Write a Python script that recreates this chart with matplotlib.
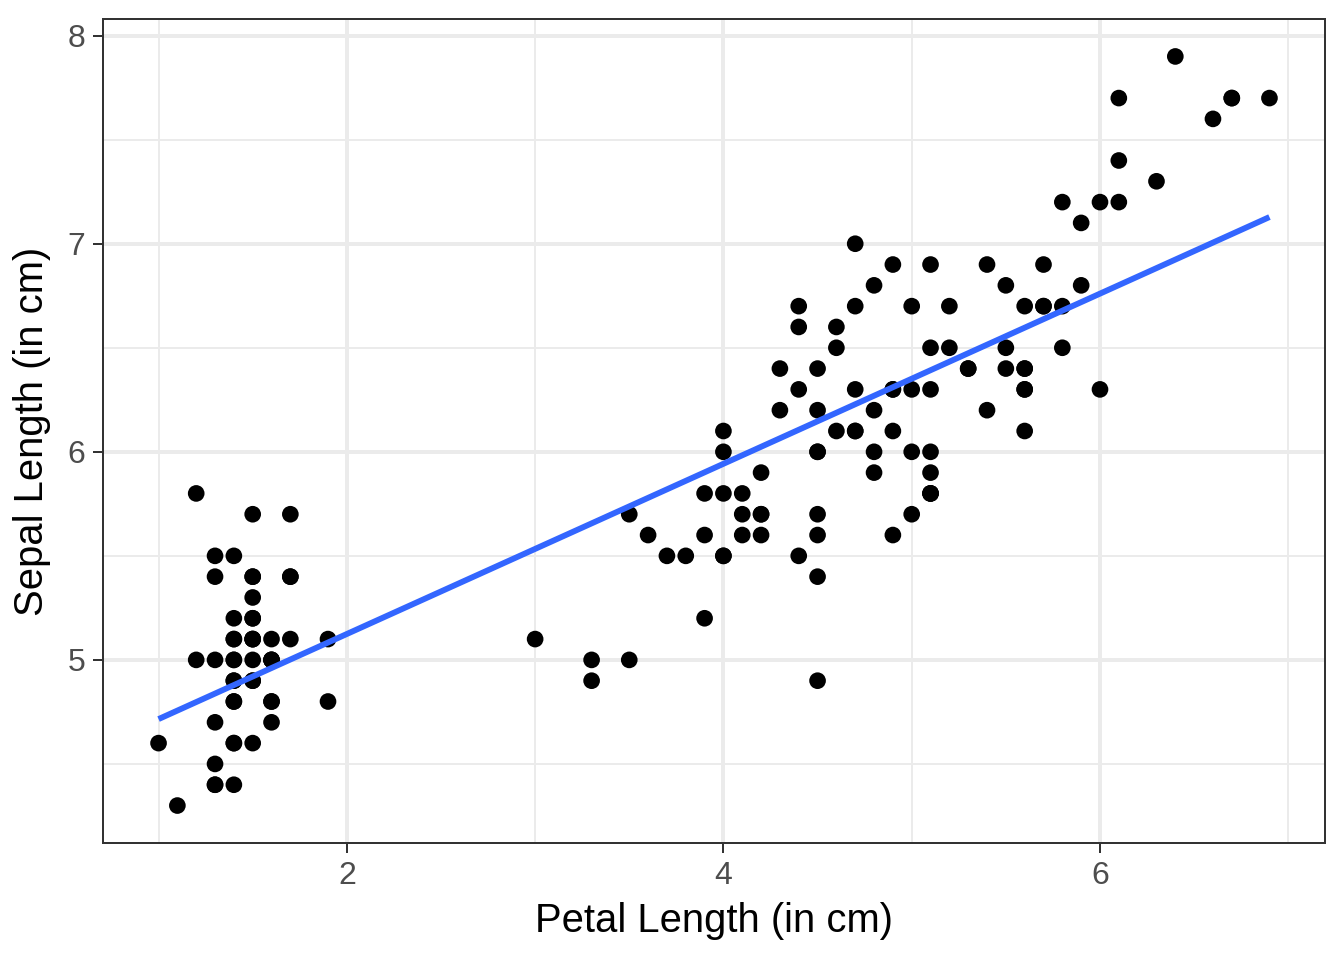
import matplotlib
matplotlib.use("Agg")
import matplotlib.pyplot as plt
import numpy as np

plt.rcParams["font.family"] = ["Liberation Sans", "DejaVu Sans"]

# iris: petal length and sepal length (cm)
petal_length = [
    1.4, 1.4, 1.3, 1.5, 1.4, 1.7, 1.4, 1.5, 1.4, 1.5, 1.5, 1.6, 1.4, 1.1, 1.2, 1.5, 1.3, 1.4, 1.7, 1.5,
    1.7, 1.5, 1.0, 1.7, 1.9, 1.6, 1.6, 1.5, 1.4, 1.6, 1.6, 1.5, 1.5, 1.4, 1.5, 1.2, 1.3, 1.4, 1.3, 1.5,
    1.3, 1.3, 1.3, 1.6, 1.9, 1.4, 1.6, 1.4, 1.5, 1.4,
    4.7, 4.5, 4.9, 4.0, 4.6, 4.5, 4.7, 3.3, 4.6, 3.9, 3.5, 4.2, 4.0, 4.7, 3.6, 4.4, 4.5, 4.1, 4.5, 3.9,
    4.8, 4.0, 4.9, 4.7, 4.3, 4.4, 4.8, 5.0, 4.5, 3.5, 3.8, 3.7, 3.9, 5.1, 4.5, 4.5, 4.7, 4.4, 4.1, 4.0,
    4.4, 4.6, 4.0, 3.3, 4.2, 4.2, 4.2, 4.3, 3.0, 4.1,
    6.0, 5.1, 5.9, 5.6, 5.8, 6.6, 4.5, 6.3, 5.8, 6.1, 5.1, 5.3, 5.5, 5.0, 5.1, 5.3, 5.5, 6.7, 6.9, 5.0,
    5.7, 4.9, 6.7, 4.9, 5.7, 6.0, 4.8, 4.9, 5.6, 5.8, 6.1, 6.4, 5.6, 5.1, 5.6, 6.1, 5.6, 5.5, 4.8, 5.4,
    5.6, 5.1, 5.1, 5.9, 5.7, 5.2, 5.0, 5.2, 5.4, 5.1,
]
sepal_length = [
    5.1, 4.9, 4.7, 4.6, 5.0, 5.4, 4.6, 5.0, 4.4, 4.9, 5.4, 4.8, 4.8, 4.3, 5.8, 5.7, 5.4, 5.1, 5.7, 5.1,
    5.4, 5.1, 4.6, 5.1, 4.8, 5.0, 5.0, 5.2, 5.2, 4.7, 4.8, 5.4, 5.2, 5.5, 4.9, 5.0, 5.5, 4.9, 4.4, 5.1,
    5.0, 4.5, 4.4, 5.0, 5.1, 4.8, 5.1, 4.6, 5.3, 5.0,
    7.0, 6.4, 6.9, 5.5, 6.5, 5.7, 6.3, 4.9, 6.6, 5.2, 5.0, 5.9, 6.0, 6.1, 5.6, 6.7, 5.6, 5.8, 6.2, 5.6,
    5.9, 6.1, 6.3, 6.1, 6.4, 6.6, 6.8, 6.7, 6.0, 5.7, 5.5, 5.5, 5.8, 6.0, 5.4, 6.0, 6.7, 6.3, 5.6, 5.5,
    5.5, 6.1, 5.8, 5.0, 5.6, 5.7, 5.7, 6.2, 5.1, 5.7,
    6.3, 5.8, 7.1, 6.3, 6.5, 7.6, 4.9, 7.3, 6.7, 7.2, 6.5, 6.4, 6.8, 5.7, 5.8, 6.4, 6.5, 7.7, 7.7, 6.0,
    6.9, 5.6, 7.7, 6.3, 6.7, 7.2, 6.2, 6.1, 6.4, 7.2, 7.4, 7.9, 6.4, 6.3, 6.1, 7.7, 6.3, 6.4, 6.0, 6.9,
    6.7, 6.9, 5.8, 6.8, 6.7, 6.7, 6.3, 6.5, 6.2, 5.9,
]

x_ticks = [2, 4, 6]
y_ticks = [5, 6, 7, 8]

x = np.array(petal_length)
y = np.array(sepal_length)

fig = plt.figure(figsize=(7, 5), dpi=192)
ax = fig.add_axes([103 / 1344, 1 - 843 / 960, (1325 - 103) / 1344, (843 - 19) / 960])

# gridlines, ggplot theme_bw style
for v in [1, 3, 5, 7]:
    ax.axvline(v, color="#EBEBEB", lw=0.75, zorder=0)
for v in [4.5, 5.5, 6.5, 7.5]:
    ax.axhline(v, color="#EBEBEB", lw=0.75, zorder=0)
for v in x_ticks:
    ax.axvline(v, color="#EBEBEB", lw=1.5, zorder=0)
for v in y_ticks:
    ax.axhline(v, color="#EBEBEB", lw=1.5, zorder=0)

ax.scatter(x, y, s=39, color="black", edgecolors="none", zorder=2)

# linear fit (geom_smooth method = "lm")
slope, intercept = np.polyfit(x, y, 1)
xs = np.linspace(x.min(), x.max(), 80)
ax.plot(xs, intercept + slope * xs, color="#3366FF", lw=2.2, zorder=3, solid_capstyle="butt")

xr = x.max() - x.min()
yr = y.max() - y.min()
ax.set_xlim(x.min() - 0.05 * xr, x.max() + 0.05 * xr)
ax.set_ylim(y.min() - 0.05 * yr, y.max() + 0.05 * yr)
ax.set_xticks(x_ticks)
ax.set_yticks(y_ticks)
ax.tick_params(length=3.7, width=0.75, color="#333333", labelsize=12,
               labelcolor="#4D4D4D", pad=3)
for sp in ax.spines.values():
    sp.set_color("#333333")
    sp.set_linewidth(0.75)

ax.set_xlabel("Petal Length (in cm)", fontsize=15, labelpad=4)
ax.set_ylabel("Sepal Length (in cm)", fontsize=15, labelpad=6)

fig.savefig("out.png", dpi=192)
